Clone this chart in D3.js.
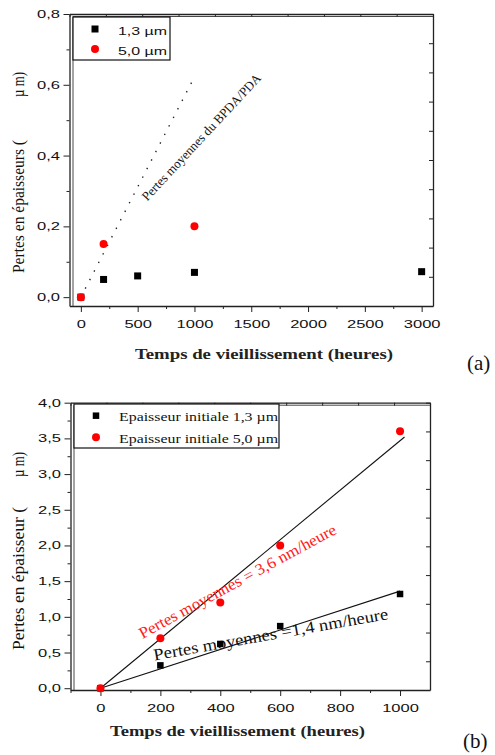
<!DOCTYPE html>
<html>
<head>
<meta charset="utf-8">
<script src="https://cdn.jsdelivr.net/npm/d3@7"></script>
<style>
  body { margin: 0; background: #fff; }
  .axis path, .axis line { stroke: #222; }
  .axis text { font-family: "Liberation Sans", Arial, sans-serif; font-size: 11px; fill: #111; }
</style>
</head>
<body>
<div id="chart"></div>
<script>
// ---- panel (a) ----
const hoursA13 = [0, 200, 500, 1000, 3000];
const lossA13 = [0, 0.05, 0.06, 0.07, 0.072];
const hoursA50 = [0, 200, 1000];
const lossA50 = [0, 0.15, 0.20];
const trendAHours = [0, 980];
const trendALoss = [0, 0.61];
const xTicksA = [0, 500, 1000, 1500, 2000, 2500, 3000];
const yTicksA = [0, 0.2, 0.4, 0.6, 0.8];
const legendA = ["1,3 \u00b5m", "5,0 \u00b5m"];

// ---- panel (b) ----
const hoursB = [0, 200, 400, 600, 1000];
const lossB13 = [0, 0.32, 0.62, 0.87, 1.32];
const lossB50 = [0, 0.70, 1.20, 2.00, 3.60];
const fitB13Hours = [0, 1000];
const fitB13Loss = [0, 1.36];
const fitB50Hours = [0, 1015];
const fitB50Loss = [0, 3.52];
const xTicksB = [0, 200, 400, 600, 800, 1000];
const yTicksB = [0, 0.5, 1, 1.5, 2, 2.5, 3, 3.5, 4];
const legendB = ["Epaisseur initiale 1,3 \u00b5m", "Epaisseur initiale 5,0 \u00b5m"];

const serif = '"Liberation Serif", "Times New Roman", serif';
const sans = '"Liberation Sans", Arial, sans-serif';
const comma = d => d3.format(".1f")(d).replace(".", ",");

const svg = d3.select("#chart").append("svg")
    .attr("width", 495)
    .attr("height", 755)
    .style("background", "#fff");

// stretch text horizontally, the original fonts are wider
function widen(sel, k) {
    sel.each(function() {
        const w = this.getComputedTextLength();
        d3.select(this).attr("textLength", w * k).attr("lengthAdjust", "spacingAndGlyphs");
    });
}
function fit(sel, w) {
    sel.attr("textLength", w).attr("lengthAdjust", "spacingAndGlyphs");
}

function drawFrame(g, x, y, xTicks, xMinor, yTicks, yMinor, xFmt) {
    const [x0, x1] = x.range();
    const [y0, y1] = y.range();

    // minor ticks first
    g.append("g").attr("class", "axis")
        .attr("transform", `translate(0,${y0})`)
        .call(d3.axisBottom(x).tickValues(xMinor).tickSize(3).tickFormat(""))
        .call(a => a.select(".domain").remove());
    g.append("g").attr("class", "axis")
        .attr("transform", `translate(${x0},0)`)
        .call(d3.axisLeft(y).tickValues(yMinor).tickSize(3).tickFormat(""))
        .call(a => a.select(".domain").remove());

    const bx = g.append("g").attr("class", "axis")
        .attr("transform", `translate(0,${y0})`)
        .call(d3.axisBottom(x).tickValues(xTicks).tickSize(6).tickSizeOuter(0).tickPadding(8).tickFormat(xFmt));
    bx.select(".domain").attr("stroke-width", 1.3);
    widen(bx.selectAll("text"), 1.5);

    const ly = g.append("g").attr("class", "axis")
        .attr("transform", `translate(${x0},0)`)
        .call(d3.axisLeft(y).tickValues(yTicks).tickSize(6).tickSizeOuter(0).tickPadding(5).tickFormat(comma));
    ly.select(".domain").attr("stroke-width", 1.3);
    ly.selectAll("text").attr("text-anchor", "end");
    widen(ly.selectAll("text"), 1.5);
    ly.selectAll("text").attr("x", -9.5).attr("text-anchor", "end");

    // mirror axes: ten equal divisions, ticks inward
    const xs = d3.scaleLinear().domain([0, 10]).range([x0, x1]);
    const ys = d3.scaleLinear().domain([0, 10]).range([y0, y1]);
    g.append("g").attr("class", "axis")
        .attr("transform", `translate(0,${y1})`)
        .call(d3.axisBottom(xs).ticks(10).tickSize(3).tickSizeOuter(0).tickFormat(""))
        .select(".domain").attr("stroke-width", 1.3);
    g.append("g").attr("class", "axis")
        .attr("transform", `translate(${x1},0)`)
        .call(d3.axisLeft(ys).ticks(10).tickSize(4).tickSizeOuter(0).tickFormat(""))
        .select(".domain").attr("stroke-width", 1.3);

    // inner corner line of the origin-style frame
    g.append("path")
        .attr("d", `M${x0 + 3.5},${y0} V${y1 + 2.5} H${x1}`)
        .attr("fill", "none")
        .attr("stroke", "#333")
        .attr("stroke-width", 0.9);
}

function drawMarkers(g, x, y, xs, ys, kind, size) {
    const pts = xs.map((d, i) => [d, ys[i]]);
    if (kind === "square") {
        g.append("g").selectAll("rect")
            .data(pts)
            .enter()
            .append("rect")
            .attr("x", d => x(d[0]) - size / 2)
            .attr("y", d => y(d[1]) - size / 2)
            .attr("width", size)
            .attr("height", size)
            .attr("fill", "#000");
    } else {
        g.append("g").selectAll("circle")
            .data(pts)
            .enter()
            .append("circle")
            .attr("cx", d => x(d[0]))
            .attr("cy", d => y(d[1]))
            .attr("r", size / 2)
            .attr("fill", "#ff0000");
    }
}

function legend(g, lx, ly, w, h, labels, rowY, font, size, textW, markSize) {
    g.append("rect")
        .attr("x", lx).attr("y", ly).attr("width", w).attr("height", h)
        .attr("fill", "#fff").attr("stroke", "#111").attr("stroke-width", 1.2);
    g.append("rect")
        .attr("x", lx + 22 - markSize / 2).attr("y", ly + rowY[0] - markSize / 2)
        .attr("width", markSize).attr("height", markSize).attr("fill", "#000");
    g.append("circle")
        .attr("cx", lx + 22).attr("cy", ly + rowY[1]).attr("r", 4).attr("fill", "#ff0000");
    labels.forEach((t, i) => {
        const tx = g.append("text")
            .attr("x", lx + 45)
            .attr("y", ly + rowY[i] + 5.5)
            .style("font-family", font)
            .style("font-size", size + "px")
            .attr("fill", "#111")
            .text(t);
        fit(tx, textW);
    });
}

function rotLabel(g, x, y, angle, txt, size, len, color) {
    const t = g.append("text")
        .attr("transform", `translate(${x},${y}) rotate(${angle})`)
        .style("font-family", serif)
        .style("font-size", size + "px")
        .attr("fill", color)
        .text(txt);
    fit(t, len);
}

// ================= (a) =================
const xA = d3.scaleLinear().domain([-100, 3100]).range([69.5, 433]);
const yA = d3.scaleLinear().domain([-0.025, 0.8]).range([306, 14]);
const gA = svg.append("g");

drawFrame(gA, xA, yA, xTicksA, d3.range(250, 3001, 500), yTicksA, d3.range(0.1, 0.8, 0.2), d3.format("d"));

gA.append("path")
    .datum(trendAHours.map((d, i) => [d, trendALoss[i]]))
    .attr("fill", "none")
    .attr("stroke", "#222")
    .attr("stroke-width", 1.4)
    .attr("stroke-dasharray", "1.4,8.2")
    .attr("d", d3.line().x(d => xA(d[0])).y(d => yA(d[1])));

rotLabel(gA, xA(585), yA(0.27), -47, "Pertes moyennes du BPDA/PDA", 13, 168, "#111");

drawMarkers(gA, xA, yA, hoursA13, lossA13, "square", 7);
drawMarkers(gA, xA, yA, hoursA50, lossA50, "circle", 8);

legend(gA, 73, 17, 97, 43, legendA, [12, 32], sans, 11.5, 49, 7);

fit(gA.append("text")
    .attr("x", 135).attr("y", 359)
    .style("font-family", serif).style("font-size", "15px").style("font-weight", "bold")
    .attr("fill", "#222")
    .text("Temps de vieillissement (heures)"), 258);

fit(gA.append("text")
    .attr("transform", "translate(24,273) rotate(-90)")
    .style("font-family", serif).style("font-size", "16px")
    .attr("fill", "#111")
    .text("Pertes en \u00e9paisseurs ("), 133);
fit(gA.append("text")
    .attr("transform", "translate(24,97) rotate(-90)")
    .style("font-family", serif).style("font-size", "16px")
    .attr("fill", "#111")
    .text("\u00b5 m)"), 25);

gA.append("text")
    .attr("x", 467).attr("y", 370)
    .style("font-family", serif).style("font-size", "21px")
    .attr("fill", "#111")
    .text("(a)");

// ================= (b) =================
const xB = d3.scaleLinear().domain([-100, 1100]).range([70.5, 430]);
const yB = d3.scaleLinear().domain([-0.025, 4]).range([690, 402.7]);
const gB = svg.append("g");

drawFrame(gB, xB, yB, xTicksB, d3.range(-100, 1001, 200), yTicksB, d3.range(0.25, 4, 0.5), d3.format("d"));

const fitLine = d3.line().x(d => xB(d[0])).y(d => yB(d[1]));
gB.append("path")
    .datum(fitB13Hours.map((d, i) => [d, fitB13Loss[i]]))
    .attr("fill", "none").attr("stroke", "#111").attr("stroke-width", 1.1)
    .attr("d", fitLine);
gB.append("path")
    .datum(fitB50Hours.map((d, i) => [d, fitB50Loss[i]]))
    .attr("fill", "none").attr("stroke", "#111").attr("stroke-width", 1.1)
    .attr("d", fitLine);

rotLabel(gB, xB(140), yB(0.69), -28.5, "Pertes moyennes = 3,6 nm/heure", 16, 222, "#ff2020");
rotLabel(gB, xB(180), yB(0.39), -10, "Pertes moyennes =1,4 nm/heure", 16.5, 238, "#111");

drawMarkers(gB, xB, yB, hoursB, lossB13, "square", 6.5);
drawMarkers(gB, xB, yB, hoursB, lossB50, "circle", 8);

legend(gB, 74, 404, 205, 44, legendB, [11.7, 33.3], serif, 13, 159, 6.5);

fit(gB.append("text")
    .attr("x", 110).attr("y", 736)
    .style("font-family", serif).style("font-size", "15px").style("font-weight", "bold")
    .attr("fill", "#222")
    .text("Temps de vieillissement (heures)"), 255);

fit(gB.append("text")
    .attr("transform", "translate(24,650) rotate(-90)")
    .style("font-family", serif).style("font-size", "16px")
    .attr("fill", "#111")
    .text("Pertes en \u00e9paisseur ("), 143);
fit(gB.append("text")
    .attr("transform", "translate(24,477) rotate(-90)")
    .style("font-family", serif).style("font-size", "16px")
    .attr("fill", "#111")
    .text("\u00b5 m)"), 25);

gB.append("text")
    .attr("x", 463).attr("y", 748)
    .style("font-family", serif).style("font-size", "21px")
    .attr("fill", "#111")
    .text("(b)");
</script>
</body>
</html>
